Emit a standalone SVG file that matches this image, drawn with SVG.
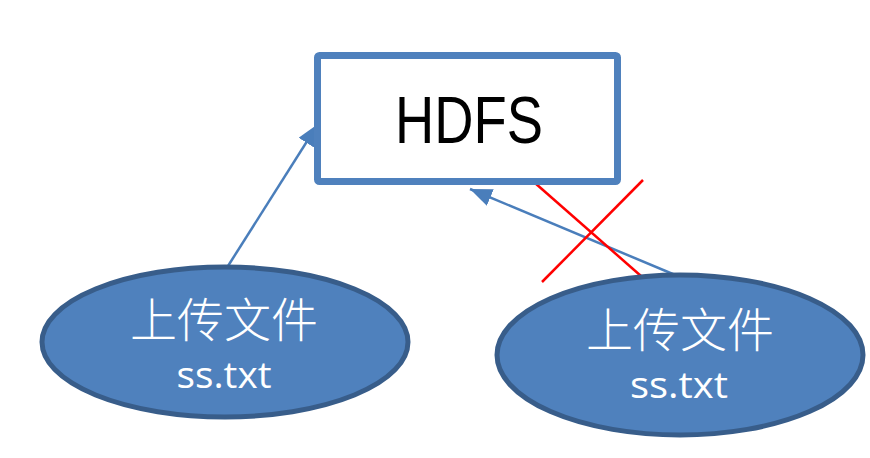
<svg xmlns="http://www.w3.org/2000/svg" width="870" height="458" viewBox="0 0 870 458">
<defs>
<style>
.box{fill:#fff;stroke:#4f81bd;stroke-width:7}
.ell{fill:#4f81bd;stroke:#385d8a;stroke-width:5}
.cn{font-family:"Noto Sans CJK SC",sans-serif;font-weight:300;fill:#fff;font-size:47px;text-anchor:middle}
.en{font-family:"Open Sans",sans-serif;font-weight:400;fill:#fff;font-size:37px;text-anchor:middle}
.conn{stroke:#4a7ebb;stroke-width:2.5;fill:none;marker-end:url(#ah)}
.x{stroke:#ff0000;stroke-width:2.5}
</style>
<marker id="ah" markerUnits="userSpaceOnUse" markerWidth="24" markerHeight="20" refX="22" refY="9" orient="auto">
<path d="M0,0 L22,9 L0,18 Z" fill="#4a7ebb"/>
</marker>
</defs>
<g id="connectors">
<line class="conn" x1="228" y1="266" x2="318" y2="124"/>
<line class="conn" x1="680" y1="277" x2="470" y2="189"/>
<line class="x" x1="535" y1="183" x2="641" y2="276"/>
<line class="x" x1="643" y1="180" x2="542" y2="282"/>
</g>
<g id="hdfs">
<rect class="box" x="317.5" y="55.5" width="300" height="126" rx="2"/>
<text x="469" y="143" font-family="Liberation Sans, sans-serif" font-size="66" fill="#000" text-anchor="middle" textLength="148" lengthAdjust="spacingAndGlyphs">HDFS</text>
</g>
<g id="upload1">
<ellipse class="ell" cx="225" cy="342" rx="183" ry="75"/>
<text class="cn" x="224" y="337">上传文件</text>
<text class="en" x="224" y="388" textLength="95" lengthAdjust="spacingAndGlyphs">ss.txt</text>
</g>
<g id="upload2">
<ellipse class="ell" cx="680" cy="355" rx="183" ry="80"/>
<text class="cn" x="680" y="347">上传文件</text>
<text class="en" x="679" y="398" textLength="98" lengthAdjust="spacingAndGlyphs">ss.txt</text>
</g>
</svg>
